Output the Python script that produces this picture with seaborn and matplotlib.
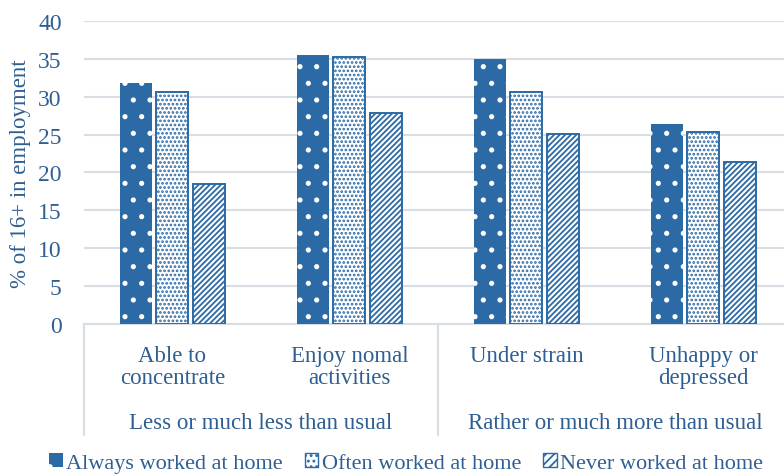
import matplotlib
matplotlib.use("Agg")
import matplotlib.pyplot as plt
import matplotlib.transforms as mtransforms
from matplotlib.patches import Patch
import seaborn as sns
import pandas as pd

# Survey items and the broader answer group each belongs to
items = ["Able to\nconcentrate", "Enjoy nomal\nactivities", "Under strain", "Unhappy or\ndepressed"]
item_groups = ["Less or much less than usual", "Rather or much more than usual"]
series = ["Always worked at home", "Often worked at home", "Never worked at home"]

always = [31.8, 35.5, 35.0, 26.4]
often = [30.6, 35.2, 30.6, 25.3]
never = [18.5, 27.9, 25.1, 21.4]

y_ticks = [0, 5, 10, 15, 20, 25, 30, 35, 40]

BLUE = "#2C6AA6"
TEXT = "#2F5F92"
GRID = "#D8DEE6"

df = pd.DataFrame({
    "item": items * 3,
    "series": [series[0]] * 4 + [series[1]] * 4 + [series[2]] * 4,
    "value": always + often + never,
})

sns.set_theme(style="white")
plt.rcParams["font.family"] = ["Liberation Serif", "DejaVu Serif"]
plt.rcParams["hatch.linewidth"] = 1.3

fig = plt.figure(figsize=(7.84, 4.77), dpi=100)
ax = fig.add_axes([0.107, 0.3187, 0.903, 0.6352])

sns.barplot(data=df, x="item", y="value", hue="series", order=items,
            hue_order=series, palette=[BLUE, "white", "white"],
            width=0.62, gap=0.12, legend=False, ax=ax, zorder=3)

# Pattern fills for each series
styles = [
    dict(facecolor=BLUE, edgecolor="white", hatch=".", linewidth=0),
    dict(facecolor="white", edgecolor=BLUE, hatch="....", linewidth=1.4),
    dict(facecolor="white", edgecolor=BLUE, hatch="//////", linewidth=1.4),
]
for container, st in zip(ax.containers, styles):
    for bar in container:
        bar.set_facecolor(st["facecolor"])
        bar.set_edgecolor(st["edgecolor"])
        bar.set_hatch(st["hatch"])
        bar.set_linewidth(st["linewidth"])

ax.set_ylim(0, 40)
ax.set_xlim(-0.5, 3.5)
ax.set_yticks(y_ticks)
ax.set_yticklabels([str(t) for t in y_ticks], fontsize=17, color=TEXT)
ax.yaxis.grid(True, color=GRID, linewidth=1.5, zorder=0)
ax.set_axisbelow(True)
for s in ["top", "right", "left"]:
    ax.spines[s].set_visible(False)
ax.spines["bottom"].set_color(GRID)
ax.spines["bottom"].set_linewidth(1.5)
ax.tick_params(axis="y", length=0, pad=16)
ax.tick_params(axis="x", length=0, pad=15)
ax.set_xticks(range(len(items)))
ax.set_xticklabels(items, fontsize=16.5, color=TEXT, linespacing=1.1)
ax.set_xlabel("")
ax.set_ylabel("% of 16+ in employment", fontsize=16.5, color=TEXT, labelpad=5)

# Category group separators and group labels below the axis
trans = mtransforms.blended_transform_factory(ax.transData, ax.transAxes)
for xv in [-0.5, 1.5]:
    ax.plot([xv, xv], [0, -0.365], transform=trans, color=GRID,
            linewidth=1.5, clip_on=False)
for i, g in enumerate(item_groups):
    ax.text(0.5 + 2 * i, -0.325, g, transform=trans, ha="center", va="center",
            fontsize=16.5, color=TEXT)

handles = [Patch(**s) for s in styles]
handles[1] = Patch(facecolor="white", edgecolor=BLUE, hatch="...", linewidth=1)
handles[2] = Patch(facecolor="white", edgecolor=BLUE, hatch="////", linewidth=1)
fig.legend(handles, series, loc="center", bbox_to_anchor=(0.518, 0.027),
           ncol=3, frameon=False, fontsize=16, labelcolor=TEXT,
           handlelength=0.6, handleheight=0.6, handletextpad=0.15,
           columnspacing=1.0)

fig.savefig("out.png", dpi=100)
